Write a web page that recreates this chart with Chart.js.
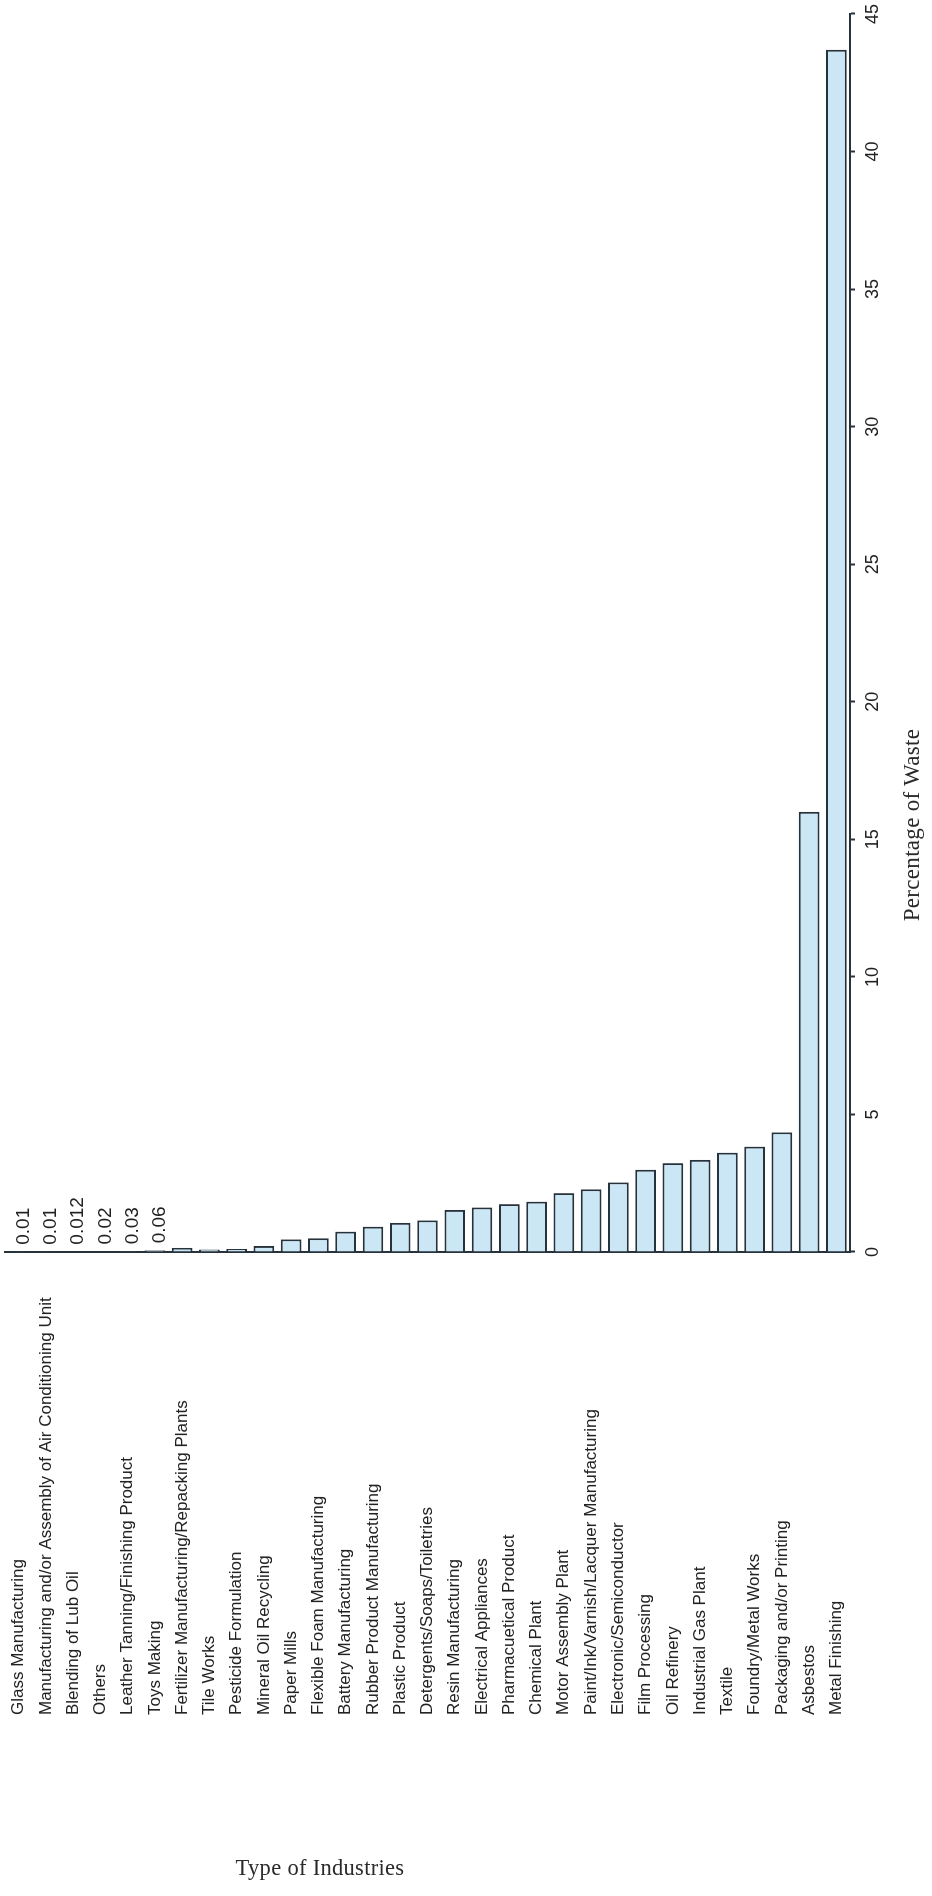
<!DOCTYPE html>
<html>
<head>
<meta charset="utf-8">
<script src="https://cdn.jsdelivr.net/npm/chart.js@4.4.1/dist/chart.umd.min.js"></script>
<style>
  html, body { margin: 0; padding: 0; background: #ffffff; }
  body { width: 932px; height: 1896px; position: relative; overflow: hidden; }
  #rot {
    position: absolute; left: 0; top: 0;
    width: 1896px; height: 932px;
    transform-origin: 0 0;
    transform: translateY(1896px) rotate(-90deg);
  }
  #chart { position: absolute; left: 0; top: 0; }
  #valueTitle {
    position: absolute; left: 871px; top: 899px; width: 400px;
    text-align: center; font-family: "Liberation Serif", serif;
    font-size: 23px; line-height: 26px; color: #2a2a2a; letter-spacing: 0.3px;
  }
  #catTitle {
    position: absolute; left: 120px; top: 1855px; width: 400px;
    text-align: center; font-family: "Liberation Serif", serif;
    font-size: 22.5px; line-height: 26px; color: #2a2a2a; letter-spacing: 0.3px;
  }
</style>
</head>
<body>
<div id="rot">
  <canvas id="chart" width="1896" height="932"></canvas>
  <div id="valueTitle">Percentage of Waste</div>
</div>
<div id="catTitle">Type of Industries</div>
<script>
const categories = [
  "Glass Manufacturing",
  "Manufacturing and/or Assembly of Air Conditioning Unit",
  "Blending of Lub Oil",
  "Others",
  "Leather Tanning/Finishing Product",
  "Toys Making",
  "Fertilizer Manufacturing/Repacking Plants",
  "Tile Works",
  "Pesticide Formulation",
  "Mineral Oil Recycling",
  "Paper Mills",
  "Flexible Foam Manufacturing",
  "Battery Manufacturing",
  "Rubber Product Manufacturing",
  "Plastic Product",
  "Detergents/Soaps/Toiletries",
  "Resin Manufacturing",
  "Electrical Appliances",
  "Pharmacuetical Product",
  "Chemical Plant",
  "Motor Assembly Plant",
  "Paint/Ink/Varnish/Lacquer Manufacturing",
  "Electronic/Semiconductor",
  "Film Processing",
  "Oil Refinery",
  "Industrial Gas Plant",
  "Textile",
  "Foundry/Metal Works",
  "Packaging and/or Printing",
  "Asbestos",
  "Metal Finishing"
];

const wastePercent = [
  0.01, 0.01, 0.012, 0.02, 0.03, 0.06,
  0.15, 0.09, 0.11, 0.22, 0.46, 0.50,
  0.74, 0.92, 1.06, 1.15, 1.53, 1.62,
  1.74, 1.83, 2.14, 2.28, 2.53, 2.99,
  3.23, 3.35, 3.61, 3.83, 4.35, 16.0,
  43.7
];

// value labels printed in the original for the first six (too small to draw) categories
const printedValueLabels = ["0.01", "0.01", "0.012", "0.02", "0.03", "0.06"];

const valueTicks = [0, 5, 10, 15, 20, 25, 30, 35, 40, 45];

const valueAxisTitle = "Percentage of Waste";
const categoryAxisTitle = "Type of Industries";

const INK = "#27333c";
const TEXT = "#222222";

const smallValueLabels = {
  id: "smallValueLabels",
  afterDatasetsDraw(chart) {
    const ctx = chart.ctx;
    const meta = chart.getDatasetMeta(0);
    ctx.save();
    ctx.font = '19px "Liberation Sans", Arial, sans-serif';
    ctx.fillStyle = TEXT;
    ctx.textAlign = "left";
    ctx.textBaseline = "middle";
    printedValueLabels.forEach((txt, i) => {
      const el = meta.data[i];
      ctx.fillText(txt, el.x + 7, el.y + 5);
    });
    ctx.restore();
  }
};

new Chart(document.getElementById("chart"), {
  type: "bar",
  data: {
    labels: categories,
    datasets: [{
      data: wastePercent,
      backgroundColor: "#cbe7f6",
      borderColor: INK,
      borderWidth: 2,
      barPercentage: 0.76,
      categoryPercentage: 1.0
    }]
  },
  options: {
    indexAxis: "y",
    responsive: false,
    animation: false,
    devicePixelRatio: 1,
    layout: { padding: { left: 181, right: 14, top: 5, bottom: 0 } },
    plugins: {
      legend: { display: false },
      tooltip: { enabled: false },
      title: { display: false }
    },
    scales: {
      x: {
        type: "linear",
        position: "bottom",
        min: 0,
        max: 45,
        afterBuildTicks(scale) {
          scale.ticks = valueTicks.map(v => ({ value: v }));
        },
        afterFit(scale) {
          scale.height = 82;
          scale.paddingLeft = 0;
          scale.paddingRight = 0;
        },
        ticks: {
          font: { family: '"Liberation Sans", Arial, sans-serif', size: 18 },
          color: TEXT,
          padding: 7,
          maxRotation: 0,
          autoSkip: false
        },
        grid: {
          drawOnChartArea: false,
          drawTicks: true,
          tickLength: 5,
          tickWidth: 2,
          tickColor: INK
        },
        border: { display: true, color: INK, width: 2 },
        title: { display: false, text: valueAxisTitle }
      },
      y: {
        type: "category",
        position: "left",
        offset: true,
        afterFit(scale) {
          scale.width = 463;
          scale.paddingTop = 0;
          scale.paddingBottom = 0;
        },
        ticks: {
          crossAlign: "far",
          autoSkip: false,
          padding: 0,
          font: { family: '"Liberation Sans", Arial, sans-serif', size: 17 },
          color: TEXT
        },
        grid: { display: true, drawOnChartArea: false, drawTicks: false },
        border: { display: true, color: INK, width: 2 },
        title: { display: false, text: categoryAxisTitle }
      }
    }
  },
  plugins: [smallValueLabels]
});
</script>
</body>
</html>
